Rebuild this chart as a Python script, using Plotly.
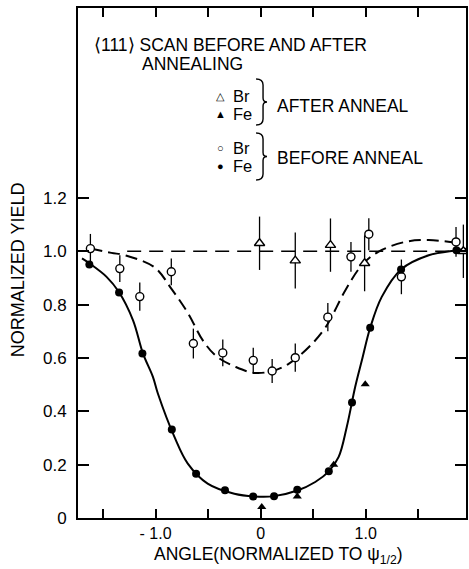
import plotly.graph_objects as go

# ---- data -------------------------------------------------------------
# Br yield before annealing (open circles) with error bars
br_before_x = [-1.62, -1.34, -1.15, -0.85, -0.64, -0.36, -0.07, 0.11, 0.33, 0.64, 0.86, 1.03, 1.34, 1.86]
br_before_y = [1.01, 0.935, 0.83, 0.923, 0.654, 0.619, 0.591, 0.551, 0.601, 0.753, 0.979, 1.064, 0.904, 1.035]
br_before_err = [0.055, 0.05, 0.053, 0.05, 0.056, 0.05, 0.047, 0.045, 0.053, 0.053, 0.056, 0.06, 0.065, 0.056]

# Br yield after annealing (open triangles) with error bars
br_after_x = [-0.01, 0.33, 0.665, 0.99, 1.93]
br_after_y = [1.03, 0.965, 1.023, 0.955, 1.0]
br_after_err = [0.1, 0.105, 0.1, 0.105, 0.1]

# Fe yield before annealing (filled circles)
fe_before_x = [-1.63, -1.347, -1.125, -0.845, -0.614, -0.339, -0.071, 0.128, 0.349, 0.649, 0.87, 1.043, 1.337, 1.864]
fe_before_y = [0.95, 0.845, 0.617, 0.332, 0.166, 0.104, 0.081, 0.082, 0.106, 0.175, 0.433, 0.713, 0.932, 1.004]

# Fe yield after annealing (filled triangles)
fe_after_x = [0.011, 0.349, 0.696, 0.996]
fe_after_y = [0.041, 0.081, 0.2, 0.501]

# smooth curve drawn through the Fe (before) points
fe_curve_x = [-1.70, -1.62, -1.466, -1.35, -1.214, -1.12, -1.025, -0.977, -0.82, -0.693, -0.504, -0.25,
              -0.06, 0.128, 0.35, 0.52, 0.649, 0.743, 0.82, 0.9, 0.964, 1.043, 1.153, 1.337, 1.6, 1.864, 1.96]
fe_curve_y = [0.973, 0.952, 0.904, 0.848, 0.741, 0.617, 0.529, 0.466, 0.304, 0.204, 0.129, 0.091,
              0.081, 0.082, 0.103, 0.135, 0.175, 0.229, 0.341, 0.491, 0.591, 0.713, 0.829, 0.932, 0.985, 1.004, 1.01]

# dashed curve drawn through the Br (before) points
br_curve_x = [-1.62, -1.42, -1.29, -1.01, -0.85, -0.69, -0.55, -0.42, -0.235, -0.06, 0.11, 0.27,
              0.46, 0.62, 0.807, 0.964, 1.12, 1.375, 1.6, 1.864]
br_curve_y = [1.01, 0.994, 0.985, 0.94, 0.86, 0.767, 0.666, 0.606, 0.566, 0.544, 0.551, 0.579,
              0.641, 0.716, 0.854, 0.948, 0.998, 1.035, 1.042, 1.032]

# unit-yield reference line
ref_x = [-1.27, 1.95]
ref_y = [1.0, 1.0]

x_tickvals = [-1.0, 0.0, 1.0]
x_ticktext = ["- 1.0", "0", "1.0"]
x_minor_tickvals = [-1.5, -0.5, 0.5, 1.5]
y_tickvals = [0.0, 0.2, 0.4, 0.6, 0.8, 1.0, 1.2]
y_ticktext = ["0", "0.2", "0.4", "0.6", "0.8", "1.0", "1.2"]

# ---- figure -----------------------------------------------------------
W, H = 469, 569
L, R, T, B = 78, 1, 8, 51
PW, PH = W - L - R, H - T - B
FONT = "Liberation Sans, Arial, Helvetica, sans-serif"


def fx(p):
    return (p - L) / PW


def fy(p):
    return (H - B - p) / PH


fig = go.Figure()

fig.add_trace(go.Scatter(x=ref_x, y=ref_y, mode="lines",
                         line=dict(color="black", width=1.4, dash="14px,8px")))
fig.add_trace(go.Scatter(x=br_curve_x, y=br_curve_y, mode="lines", line_shape="spline",
                         line=dict(color="black", width=2, dash="12px,6px")))
fig.add_trace(go.Scatter(x=fe_curve_x, y=fe_curve_y, mode="lines", line_shape="spline",
                         line=dict(color="black", width=2)))

err_style = dict(type="data", visible=True, color="black", thickness=1.3, width=0)

fig.add_trace(go.Scatter(x=br_before_x, y=br_before_y, mode="markers",
                         error_y=dict(array=br_before_err, **err_style),
                         marker=dict(symbol="circle", size=8, color="white",
                                     line=dict(color="black", width=1.4))))
fig.add_trace(go.Scatter(x=br_after_x, y=br_after_y, mode="markers",
                         error_y=dict(array=br_after_err, **err_style),
                         marker=dict(symbol="triangle-up", size=9, color="white",
                                     line=dict(color="black", width=1.4))))
fig.add_trace(go.Scatter(x=fe_before_x, y=fe_before_y, mode="markers",
                         marker=dict(symbol="circle", size=8, color="black")))
fig.add_trace(go.Scatter(x=fe_after_x, y=fe_after_y, mode="markers",
                         marker=dict(symbol="triangle-up", size=8, color="black")))

annotations = []


def text(t, x, y, anchor="left", size=17.5, angle=0):
    annotations.append(dict(text=t, x=fx(x), y=fy(y), xref="paper", yref="paper",
                            xanchor=anchor, yanchor="middle", showarrow=False, borderpad=0,
                            textangle=angle, font=dict(family=FONT, size=size, color="black")))


text("⟨111⟩ SCAN BEFORE AND AFTER", 93, 45)
text("ANNEALING", 141, 64)
text("△", 221, 96, anchor="center", size=11)
text("Br", 233, 96, size=16.5)
text("▲", 221, 114, anchor="center", size=11)
text("Fe", 233, 114, size=16.5)
text("AFTER ANNEAL", 277, 106)
text("○", 221, 148, anchor="center", size=11)
text("Br", 233, 148, size=16.5)
text("●", 221, 166, anchor="center", size=11)
text("Fe", 233, 166, size=16.5)
text("BEFORE ANNEAL", 277, 158)
text("NORMALIZED YIELD", 18, 270, anchor="center", angle=-90, size=18)
text("ANGLE(NORMALIZED TO ψ<sub>1/2</sub>)", 280, 555, anchor="center", size=17.5)


def brace(x0, y0, y1, w=7):
    ym = (y0 + y1) / 2
    pts = (f"M {fx(x0)},{fy(y0)} Q {fx(x0 + w)},{fy(y0)} {fx(x0 + w)},{fy(y0 + 6)} "
           f"L {fx(x0 + w)},{fy(ym - 4)} Q {fx(x0 + w)},{fy(ym)} {fx(x0 + w + 4)},{fy(ym)} "
           f"Q {fx(x0 + w)},{fy(ym)} {fx(x0 + w)},{fy(ym + 4)} "
           f"L {fx(x0 + w)},{fy(y1 - 6)} Q {fx(x0 + w)},{fy(y1)} {fx(x0)},{fy(y1)}")
    return dict(type="path", path=pts, xref="paper", yref="paper",
                line=dict(color="black", width=1.4))


shapes = [brace(257, 79, 125), brace(257, 133, 180)]

axis_common = dict(showgrid=False, zeroline=False, showline=True, linecolor="black", linewidth=2,
                   ticks="inside", tickcolor="black", tickwidth=1.6, mirror="ticks")

fig.update_layout(
    width=W, height=H,
    margin=dict(l=L, r=R, t=T, b=B, pad=0),
    paper_bgcolor="white", plot_bgcolor="white",
    showlegend=False,
    annotations=annotations,
    shapes=shapes,
    xaxis=dict(range=[-1.738, 1.955], tickvals=x_tickvals, ticktext=x_ticktext, ticklen=9,
               minor=dict(tickvals=x_minor_tickvals, ticks="inside", ticklen=9, tickwidth=1.6,
                          tickcolor="black", showgrid=False),
               tickfont=dict(family=FONT, size=16, color="black"), **axis_common),
    yaxis=dict(range=[0, 1.912], tickvals=y_tickvals, ticktext=y_ticktext, ticklen=11,
               ticklabelstandoff=6, tickfont=dict(family=FONT, size=17, color="black"),
               **axis_common),
)

fig.write_html("out.html")
